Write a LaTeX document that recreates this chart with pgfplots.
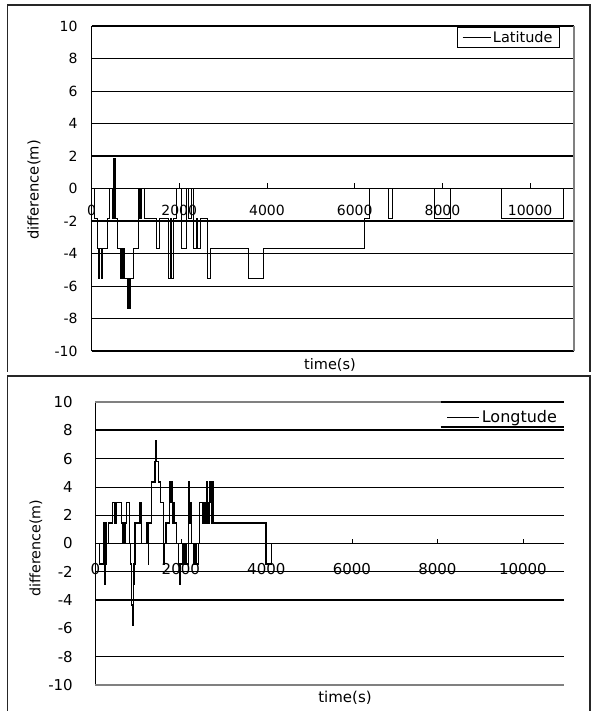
\documentclass[border=0pt]{standalone}
\usepackage{pgfplots}
\pgfplotsset{compat=1.18}
\usepackage{fontspec}
\setmainfont{DejaVu Sans}

\pgfplotstableread{
x y
0 0
60 -1.84
130 -3.69
160 -5.53
185 -3.69
225 -5.53
250 -3.69
360 -1.84
415 0
468 -1.84
505 1.84
520 -1.84
535 1.84
550 -1.84
600 -3.69
650 -5.53
675 -3.69
700 -5.53
725 -3.69
745 -5.53
817 -7.38
840 -5.53
870 -7.38
895 -5.53
955 -3.69
1062 -1.84
1080 0
1095 -1.84
1110 0
1125 -1.84
1140 0
1199 -1.84
1480 -3.69
1556 -1.84
1747 -5.53
1790 -1.84
1823 -5.53
1870 -1.84
1930 0
2059 -3.69
2173 0
2211 -1.84
2287 0
2325 -3.69
2386 -1.84
2416 -3.69
2493 -1.84
2644 -5.53
2706 -3.69
3580 -5.53
3923 -3.69
6217 -1.84
6330 0
6762 -1.84
6865 0
7815 -1.84
8185 0
9350 -1.84
10750 0
10760 0
}\latdata

\pgfplotstableread{
x y
0 0
100 -1.45
203 1.45
215 -2.9
235 1.45
250 -1.45
266 0
304 1.45
407 2.9
450 1.45
484 2.9
617 1.45
640 0
660 1.45
680 0
700 1.45
734 2.9
796 0
828 -1.45
850 -4.35
870 -5.8
890 -2.9
905 -1.45
929 1.45
1046 2.9
1070 1.45
1085 0
1210 1.45
1235 -1.45
1250 1.45
1319 4.35
1396 5.8
1415 7.25
1430 5.8
1474 4.35
1530 2.9
1591 -1.45
1620 0
1654 1.45
1731 4.35
1760 2.9
1775 4.35
1794 2.9
1810 1.45
1825 2.9
1841 1.45
1904 0
1942 -1.45
1970 -2.9
1998 -1.45
2030 0
2058 -1.45
2100 0
2138 -1.45
2175 4.35
2200 1.45
2230 2.9
2255 0
2290 -1.45
2332 0
2370 -1.45
2409 0
2433 2.9
2512 1.45
2540 2.9
2570 1.45
2606 4.35
2630 1.45
2660 2.9
2683 4.35
2720 1.45
2746 4.35
2760 1.45
3993 -1.45
4126 0
10950 0
}\londata

\begin{document}
\begin{tikzpicture}[x=1pt,y=1pt]
\useasboundingbox (0,0) rectangle (593,711);
% outer chart frame (top chart)
\draw[line width=1.6pt, black!85] (7.6,339) -- (7.6,706) -- (590,706) -- (590,339);

% ---------------- top chart ----------------
\begin{axis}[
  at={(91.5pt,360pt)}, anchor=south west, scale only axis,
  width=482.5pt, height=325pt,
  xmin=0, xmax=11000, ymin=-10, ymax=10,
  axis x line=middle, axis y line=left,
  axis line style={-, line width=0.8pt, black},
  hide obscured x ticks=false, hide obscured y ticks=false,
  xtick={0,2000,...,10000}, ytick={-10,-8,...,10},
  xtick align=inside, major tick length=5pt,
  xtick style={black, line width=0.6pt},
  ytick style={draw=none},
  scaled ticks=false,
  /pgf/number format/1000 sep={},
  /pgf/number format/assume math mode=true,
  ticklabel style={font=\fontsize{14}{16}\selectfont},
  xticklabel style={yshift=-13pt},
  yticklabel style={xshift=-8pt},
  ymajorgrids, major grid style={black, line width=0.6pt},
  extra y ticks={-2,2}, extra y tick labels={},
  extra y tick style={grid=major, major grid style={black, line width=1.6pt}, ytick style={draw=none}},
  legend style={at={(0.971,0.997)}, anchor=north east, draw=black, line width=0.8pt,
    font=\fontsize{14.5}{16}\selectfont, inner xsep=5pt, inner ysep=2pt},
  legend image code/.code={\draw[#1, line width=0.8pt] (0pt,0pt) -- (28pt,0pt);},
  clip=false,
  after end axis/.code={
    \draw[line width=1.2pt] (rel axis cs:0,1) -- (rel axis cs:1,1);
    \draw[line width=1.2pt] (rel axis cs:0,0) -- (rel axis cs:1,0);
    \draw[line width=1.5pt, gray] (rel axis cs:1,0) -- (rel axis cs:1,1);
  },
]
\addplot[const plot, black, line width=0.9pt] table[x=x, y=y] {\latdata};
\addlegendentry{Latitude}
\end{axis}
\node[rotate=90, font=\fontsize{14.7}{16}\selectfont] at (34,521) {difference(m)};
\node[font=\fontsize{14.5}{16}\selectfont] at (330,346) {time(s)};

% ---------------- bottom chart ----------------
\draw[line width=1.6pt, black!85, fill=white] (7.6,-1) -- (7.6,335) -- (590,335) -- (590,-1);
\begin{axis}[
  at={(95.3pt,26pt)}, anchor=south west, scale only axis,
  width=468.2pt, height=283pt,
  xmin=0, xmax=10950, ymin=-10, ymax=10,
  axis x line=middle, axis y line=left,
  axis line style={-, line width=0.8pt, black},
  hide obscured x ticks=false, hide obscured y ticks=false,
  xtick={0,2000,...,10000}, ytick={-10,-8,...,10},
  xtick align=inside, major tick length=4pt,
  xtick style={black, line width=0.6pt},
  ytick style={draw=none},
  scaled ticks=false,
  /pgf/number format/1000 sep={},
  /pgf/number format/assume math mode=true,
  ticklabel style={font=\fontsize{15}{17}\selectfont},
  xticklabel style={yshift=-16pt},
  yticklabel style={xshift=-17pt},
  extra y ticks={8,-4,-8}, extra y tick labels={},
  extra y tick style={grid=major, major grid style={black, line width=1.6pt}, ytick style={draw=none}},
  legend style={at={(0.995,0.985)}, anchor=north east, draw=none, fill=none,
    font=\fontsize{16}{18}\selectfont, inner sep=2pt},
  legend image code/.code={\draw[#1, line width=1.4pt] (0pt,0pt) -- (32pt,0pt);},
  clip=false,
  after end axis/.code={
    \draw[line width=1.2pt, gray] (rel axis cs:0,1) -- (rel axis cs:0.7375,1);
    \draw[line width=1.6pt] (rel axis cs:0.7375,1) -- (rel axis cs:1,1);
    \draw[line width=1.6pt] (rel axis cs:0.7375,0.9106) -- (rel axis cs:1,0.9106);
    \draw[line width=1.2pt, gray] (rel axis cs:0,0) -- (rel axis cs:1,0);
  },
]
\draw[line width=0.7pt] (axis cs:0,6) -- (axis cs:10950,6);
\draw[line width=0.7pt] (axis cs:0,4) -- (axis cs:10950,4);
\draw[line width=0.7pt] (axis cs:0,2) -- (axis cs:10950,2);
\draw[line width=0.7pt] (axis cs:0,-2) -- (axis cs:10950,-2);
\addplot[const plot, black, line width=1.2pt] table[x=x, y=y] {\londata};
\addlegendentry{Longtude}
\end{axis}
\node[rotate=90, font=\fontsize{14.3}{16}\selectfont] at (36,163) {difference(m)};
\node[font=\fontsize{15}{17}\selectfont] at (345,13) {time(s)};
\end{tikzpicture}
\end{document}
